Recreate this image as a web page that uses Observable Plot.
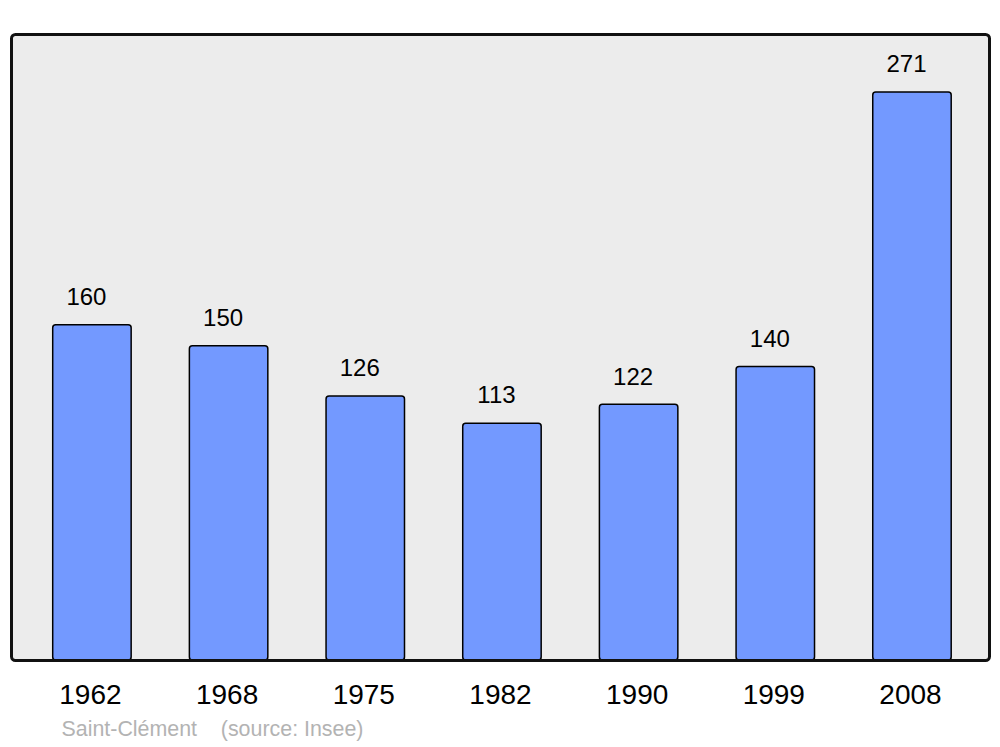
<!DOCTYPE html>
<html>
<head>
<meta charset="utf-8">
<script src="https://cdn.jsdelivr.net/npm/d3@7"></script>
<script src="https://cdn.jsdelivr.net/npm/@observablehq/plot@0.6"></script>
<style>
  html, body { margin: 0; padding: 0; background: #fff; }
  svg { font-family: "Liberation Sans", Arial, sans-serif; display: block; }
</style>
</head>
<body>
<div id="chart"></div>
<script>
const years = ["1962", "1968", "1975", "1982", "1990", "1999", "2008"];
const population = [160, 150, 126, 113, 122, 140, 271];
const captionText = "Saint-Clément    (source: Insee)";

const data = years.map((y, i) => ({year: y, value: population[i]}));

const chart = Plot.plot({
  width: 1000,
  height: 747,
  marginTop: 34,
  marginBottom: 87,
  marginLeft: 11,
  marginRight: 11,
  style: {fontFamily: '"Liberation Sans", Arial, sans-serif', background: "#fff"},
  x: {domain: years, range: [11.7, 992.2], paddingInner: 0.426, paddingOuter: 0.3, round: false, label: null},
  y: {domain: [0, 298.7], axis: null},
  marks: [
    Plot.frame({fill: "#ececec", stroke: "none", rx: 4}),
    Plot.barY(data, {x: "year", y: "value", fill: "#7399ff", stroke: "#000", strokeWidth: 1.5, rx: 3}),
    Plot.text(data, {x: "year", y: "value", text: d => String(d.value), dy: -28, dx: -6, lineAnchor: "middle", fontSize: 24, fill: "#000"}),
    Plot.frame({fill: "none", stroke: "#111", strokeWidth: 3, rx: 4}),
    Plot.axisX({tickSize: 0, tickPadding: 24, dx: -2, fontSize: 28, color: "#000", label: null}),
    Plot.text([captionText], {frameAnchor: "bottom-left", dx: 50, dy: 69, lineAnchor: "middle", textAnchor: "start", fontSize: 21.4, fill: "#b3b3b3", text: d => d})
  ]
});
document.getElementById("chart").appendChild(chart);
</script>
</body>
</html>
